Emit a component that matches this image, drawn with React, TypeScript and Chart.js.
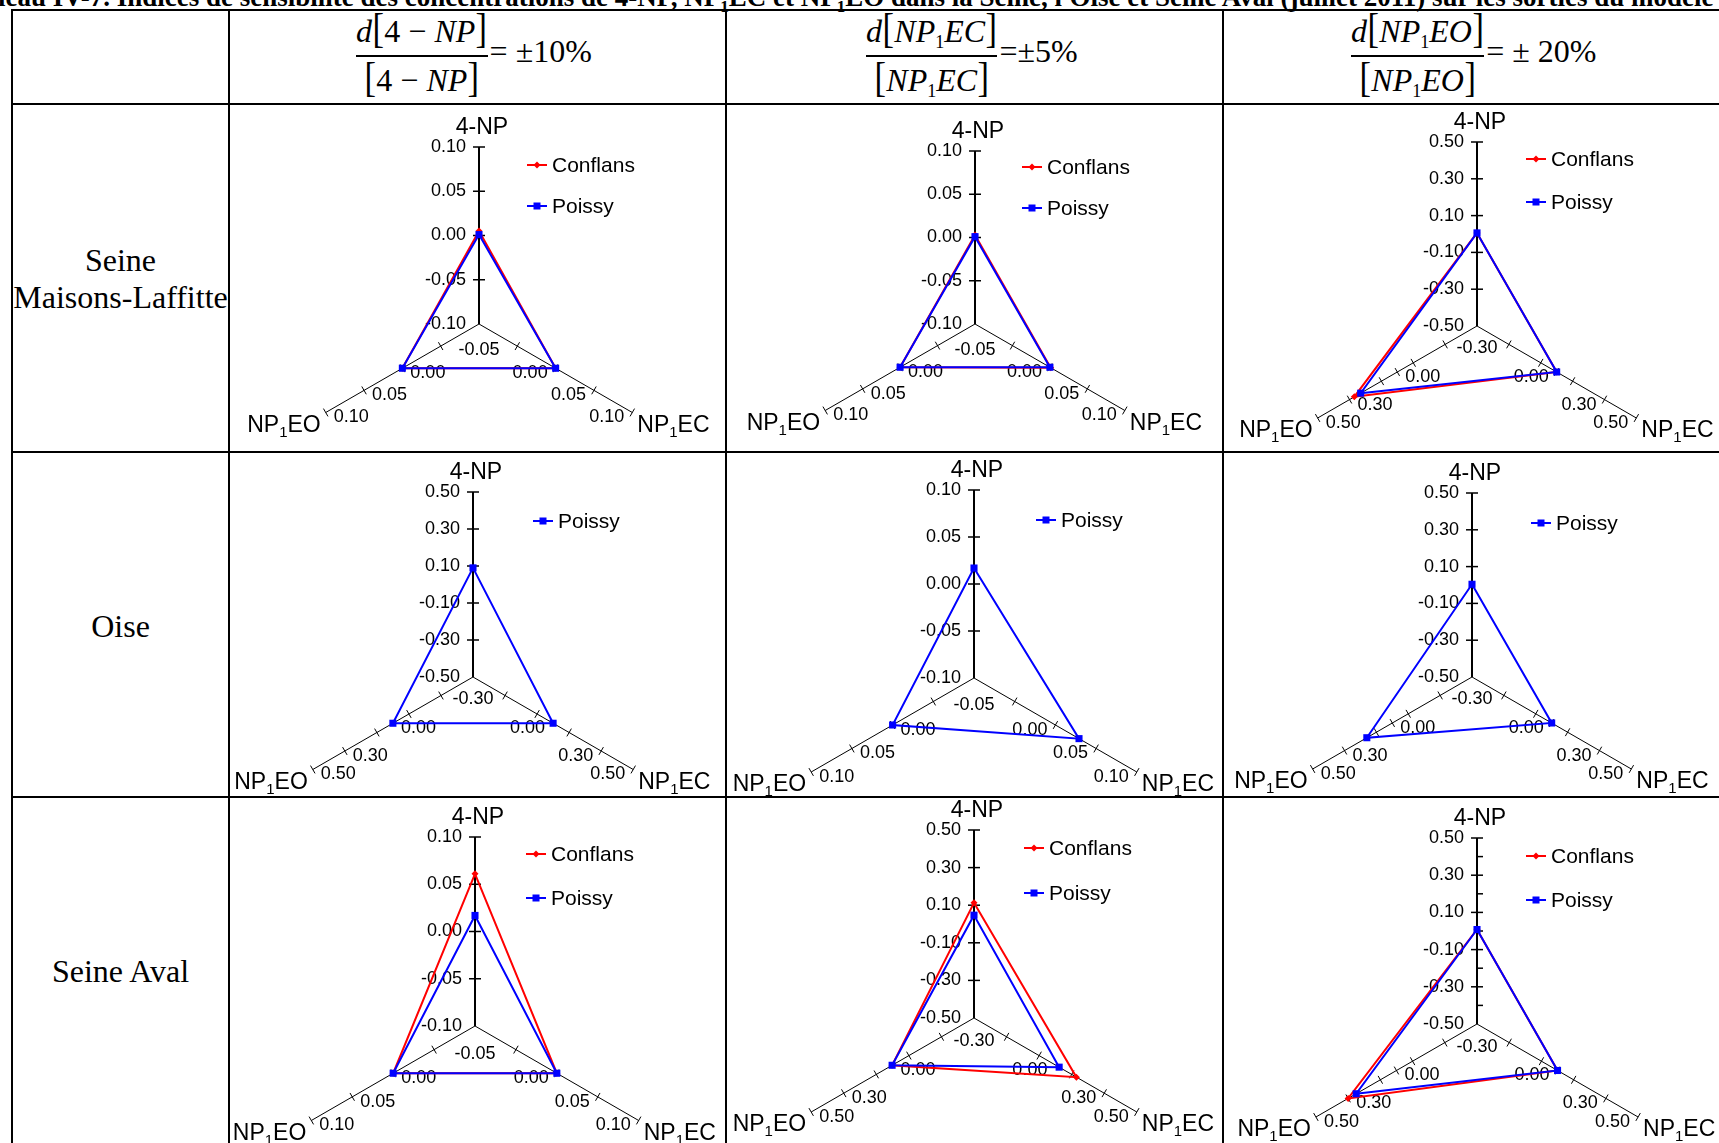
import React, { useEffect, useRef } from 'react';
import { Chart, registerables } from 'chart.js';

Chart.register(...registerables);

// ---------------- Data ----------------
const axisNames = ['4-NP', 'NP1EC', 'NP1EO'];
const seriesNames = ['Conflans', 'Poissy'];
const seriesColors = ['#FF0000', '#0000FF'];

// vertical-axis tick labels
const smallAxisTicks = [0.1, 0.05, 0.0, -0.05, -0.1];
const largeAxisTicks = [0.5, 0.3, 0.1, -0.1, -0.3, -0.5];
const largeMinorTicks = [0.4, 0.2, 0.0, -0.2, -0.4];
// side-axis ticks and labels
const smallSideTicks = [-0.05, 0.0, 0.05, 0.1];
const largeSideTicks = [-0.3, -0.1, 0.0, 0.1, 0.3, 0.5];
const largeSideTicksPlain = [-0.3, -0.1, 0.1, 0.3, 0.5];
const smallSideLabels = [-0.05, 0.0, 0.05, 0.1];
const largeSideLabels = [-0.3, 0.0, 0.3, 0.5];

// Seine Maisons-Laffitte  [4-NP, NP1EC, NP1EO]
const smlConflans4NP = [0.005, 0.0, 0.0];
const smlPoissy4NP = [0.001, 0.0, 0.0];
const smlConflansEC = [0.003, 0.001, 0.0];
const smlPoissyEC = [0.001, 0.0, 0.0];
const smlConflansEO = [0.006, 0.0, 0.27];
const smlPoissyEO = [0.006, 0.0, 0.23];
// Oise
const oisePoissy4NP = [0.09, 0.0, 0.0];
const oisePoissyEC = [0.017, 0.029, 0.0];
const oisePoissyEO = [0.004, 0.0, 0.16];
// Seine Aval
const savConflans4NP = [0.061, 0.0, 0.0];
const savPoissy4NP = [0.017, 0.0, 0.0];
const savConflansEC = [0.113, 0.129, 0.003];
const savPoissyEC = [0.047, 0.023, 0.003];
const savConflansEO = [0.008, 0.0, 0.3];
const savPoissyEO = [0.008, 0.0, 0.25];

const rowLabels = [['Seine', 'Maisons-Laffitte'], ['Oise'], ['Seine Aval']];

// ---------------- Layout ----------------
const sans = "'Liberation Sans', Arial, Helvetica, sans-serif";
const serif = "'Liberation Serif', 'Times New Roman', Times, serif";
const colX = [12, 229, 726, 1223, 1720];
const rowY = [10, 104, 452, 797, 1143];
const CANVAS_W = 497;
const CANVAS_H = 470;

type Cfg = {
  row: number; col: number; cx: number; cy: number; R: number;
  large: boolean; conflans: number[] | null; poissy: number[];
  lx: number; ly: number; gap: number; zeroTick: boolean; minor: boolean;
};

const charts: Cfg[] = [
  { row: 0, col: 0, cx: 250, cy: 220, R: 177, large: false, conflans: smlConflans4NP, poissy: smlPoissy4NP, lx: 298, ly: 61, gap: 41, zeroTick: false, minor: false },
  { row: 0, col: 1, cx: 249, cy: 220, R: 173, large: false, conflans: smlConflansEC, poissy: smlPoissyEC, lx: 296, ly: 63, gap: 41, zeroTick: false, minor: false },
  { row: 0, col: 2, cx: 254, cy: 222, R: 184, large: true, conflans: smlConflansEO, poissy: smlPoissyEO, lx: 303, ly: 55, gap: 43, zeroTick: true, minor: false },
  { row: 1, col: 0, cx: 244, cy: 225, R: 185, large: true, conflans: null, poissy: oisePoissy4NP, lx: 304, ly: 69, gap: 0, zeroTick: false, minor: false },
  { row: 1, col: 1, cx: 248, cy: 226, R: 188, large: false, conflans: null, poissy: oisePoissyEC, lx: 310, ly: 68, gap: 0, zeroTick: false, minor: false },
  { row: 1, col: 2, cx: 249, cy: 225, R: 184, large: true, conflans: null, poissy: oisePoissyEO, lx: 308, ly: 71, gap: 0, zeroTick: true, minor: false },
  { row: 2, col: 0, cx: 246, cy: 229, R: 189, large: false, conflans: savConflans4NP, poissy: savPoissy4NP, lx: 297, ly: 57, gap: 44, zeroTick: false, minor: false },
  { row: 2, col: 1, cx: 248, cy: 221, R: 188, large: true, conflans: savConflansEC, poissy: savPoissyEC, lx: 298, ly: 51, gap: 45, zeroTick: false, minor: false },
  { row: 2, col: 2, cx: 254, cy: 227, R: 186, large: true, conflans: savConflansEO, poissy: savPoissyEO, lx: 303, ly: 59, gap: 44, zeroTick: true, minor: true },
];

const fmt = (v: number) => (Math.abs(v) < 1e-9 ? '0.00' : v.toFixed(2));

function drawAxisName(ctx: CanvasRenderingContext2D, name: string, x: number, baseline: number, align: 'left' | 'right' | 'center') {
  const m = name.match(/^(NP)(1)(.*)$/);
  const parts: [string, boolean][] = m ? [[m[1], false], [m[2], true], [m[3], false]] : [[name, false]];
  const big = `23px ${sans}`;
  const small = `15px ${sans}`;
  const widths = parts.map(([t, sub]) => { ctx.font = sub ? small : big; return ctx.measureText(t).width; });
  const total = widths.reduce((a, b) => a + b, 0);
  let start = align === 'left' ? x : align === 'right' ? x - total : x - total / 2;
  ctx.textAlign = 'left';
  ctx.textBaseline = 'alphabetic';
  parts.forEach(([t, sub], i) => {
    ctx.font = sub ? small : big;
    ctx.fillText(t, start, sub ? baseline + 5 : baseline);
    start += widths[i];
  });
}

function drawMarker(ctx: CanvasRenderingContext2D, idx: number, x: number, y: number) {
  ctx.fillStyle = seriesColors[idx];
  if (idx === 0) {
    ctx.beginPath();
    ctx.moveTo(x, y - 3.5); ctx.lineTo(x + 3.5, y); ctx.lineTo(x, y + 3.5); ctx.lineTo(x - 3.5, y);
    ctx.closePath(); ctx.fill();
  } else {
    ctx.fillRect(x - 3.5, y - 3.5, 7, 7);
  }
}

function makeDecor(cfg: Cfg) {
  return {
    id: 'decor',
    beforeDatasetsDraw(chart: any) {
      const s = chart.scales.r;
      const ctx: CanvasRenderingContext2D = chart.ctx;
      const vTicks = cfg.large ? largeAxisTicks : smallAxisTicks;
      const minV = cfg.large ? -0.5 : -0.1;
      const sTicks = cfg.large ? (cfg.zeroTick ? largeSideTicks : largeSideTicksPlain) : smallSideTicks;
      const sLabels = cfg.large ? largeSideLabels : smallSideLabels;
      ctx.save();
      ctx.strokeStyle = '#000';
      ctx.fillStyle = '#000';
      ctx.font = `18px ${sans}`;
      ctx.lineWidth = 1.5;
      vTicks.forEach((v) => {
        const p = s.getPointPositionForValue(0, v);
        if (v !== minV) {
          ctx.beginPath(); ctx.moveTo(p.x - 6, p.y); ctx.lineTo(p.x + 6, p.y); ctx.stroke();
        }
        ctx.textAlign = 'right';
        ctx.textBaseline = 'middle';
        ctx.fillText(fmt(v), p.x - 13, p.y);
      });
      if (cfg.minor) {
        largeMinorTicks.forEach((v) => {
          const p = s.getPointPositionForValue(0, v);
          ctx.beginPath(); ctx.moveTo(p.x, p.y); ctx.lineTo(p.x + 6, p.y); ctx.stroke();
        });
      }
      ctx.lineWidth = 1;
      [1, 2].forEach((i) => {
        sTicks.forEach((v) => {
          const p = s.getPointPositionForValue(i, v);
          const nx = -Math.sin(p.angle);
          const ny = Math.cos(p.angle);
          ctx.beginPath();
          ctx.moveTo(p.x - nx * 4.5, p.y - ny * 4.5);
          ctx.lineTo(p.x + nx * 4.5, p.y + ny * 4.5);
          ctx.stroke();
        });
        sLabels.slice(1).forEach((v) => {
          const p = s.getPointPositionForValue(i, v);
          ctx.textAlign = i === 1 ? 'right' : 'left';
          ctx.textBaseline = 'middle';
          ctx.fillText(fmt(v), p.x + (i === 1 ? -8 : 8), p.y + 5);
        });
      });
      const p1 = s.getPointPositionForValue(1, sLabels[0]);
      ctx.textAlign = 'center';
      ctx.textBaseline = 'middle';
      ctx.fillText(fmt(sLabels[0]), s.xCenter, p1.y + 4);
      ctx.restore();
    },
    afterDatasetsDraw(chart: any) {
      const s = chart.scales.r;
      const ctx: CanvasRenderingContext2D = chart.ctx;
      const maxV = cfg.large ? 0.5 : 0.1;
      ctx.save();
      ctx.fillStyle = '#000';
      const top = s.getPointPositionForValue(0, maxV);
      drawAxisName(ctx, axisNames[0], top.x + 3, top.y - 13, 'center');
      const ec = s.getPointPositionForValue(1, maxV);
      drawAxisName(ctx, axisNames[1], ec.x + 5, ec.y + 19, 'left');
      const eo = s.getPointPositionForValue(2, maxV);
      drawAxisName(ctx, axisNames[2], eo.x - 5, eo.y + 19, 'right');
      // legend
      const items = cfg.conflans ? [0, 1] : [1];
      items.forEach((idx, k) => {
        const y = cfg.ly + k * cfg.gap;
        ctx.strokeStyle = seriesColors[idx];
        ctx.lineWidth = 2;
        ctx.beginPath(); ctx.moveTo(cfg.lx, y); ctx.lineTo(cfg.lx + 20, y); ctx.stroke();
        drawMarker(ctx, idx, cfg.lx + 10, y);
        ctx.fillStyle = '#000';
        ctx.font = `21px ${sans}`;
        ctx.textAlign = 'left';
        ctx.textBaseline = 'middle';
        ctx.fillText(seriesNames[idx], cfg.lx + 25, y + 1);
      });
      ctx.restore();
    },
  };
}

function RadarCell({ cfg }: { cfg: Cfg }) {
  const ref = useRef<HTMLCanvasElement>(null);
  useEffect(() => {
    const datasets: any[] = [];
    if (cfg.conflans) {
      datasets.push({
        label: seriesNames[0], data: cfg.conflans, borderColor: seriesColors[0], backgroundColor: seriesColors[0],
        borderWidth: 2, fill: false, pointStyle: 'rectRot', pointRadius: 3.5, pointBorderWidth: 0,
        pointBackgroundColor: seriesColors[0], order: 1,
      });
    }
    datasets.push({
      label: seriesNames[1], data: cfg.poissy, borderColor: seriesColors[1], backgroundColor: seriesColors[1],
      borderWidth: 2, fill: false, pointStyle: 'rect', pointRadius: 5, pointBorderWidth: 0,
      pointBackgroundColor: seriesColors[1], order: 0,
    });
    const min = cfg.large ? -0.5 : -0.1;
    const max = cfg.large ? 0.5 : 0.1;
    const chart = new Chart(ref.current as HTMLCanvasElement, {
      type: 'radar',
      data: { labels: axisNames, datasets },
      options: {
        responsive: false,
        animation: false,
        events: [],
        layout: {
          padding: {
            left: cfg.cx - cfg.R, top: cfg.cy - cfg.R,
            right: CANVAS_W - cfg.cx - cfg.R, bottom: CANVAS_H - cfg.cy - cfg.R,
          },
        },
        plugins: { legend: { display: false }, tooltip: { enabled: false }, title: { display: false } },
        elements: { line: { tension: 0 } },
        scales: {
          r: {
            min, max,
            ticks: { display: false, stepSize: cfg.large ? 0.2 : 0.05 },
            grid: { display: false },
            angleLines: { display: true, color: '#000', lineWidth: (c: any) => (c.index === 0 ? 2 : 1) },
            pointLabels: { display: false },
          },
        },
      } as any,
      plugins: [makeDecor(cfg) as any],
    });
    return () => chart.destroy();
  }, [cfg]);
  const left = colX[cfg.col + 1];
  const top = rowY[cfg.row + 1];
  const h = rowY[cfg.row + 2] - top;
  return (
    <div style={{ position: 'absolute', left, top, width: CANVAS_W, height: h, overflow: 'hidden' }}>
      <canvas ref={ref} width={CANVAS_W} height={CANVAS_H} style={{ display: 'block', width: CANVAS_W, height: CANVAS_H }} />
    </div>
  );
}

const Br = ({ c }: { c: string }) => (
  <span style={{ fontStyle: 'normal', fontSize: 43, display: 'inline-block', transform: 'scaleX(0.8)', margin: '0 -1px' }}>{c}</span>
);
const It = ({ t }: { t: string }) => <span style={{ fontStyle: 'italic' }}>{t}</span>;
const Sub = ({ t }: { t: string }) => (
  <span style={{ fontStyle: 'normal', fontSize: 18, position: 'relative', top: 6 }}>{t}</span>
);

function Formula({ left, num, den, rest }: { left: number; num: React.ReactNode; den: React.ReactNode; rest: string }) {
  return (
    <div style={{ position: 'absolute', left, top: 8, fontFamily: serif, fontSize: 32, whiteSpace: 'nowrap', display: 'flex', alignItems: 'flex-start' }}>
      <div style={{ display: 'flex', flexDirection: 'column', alignItems: 'center' }}>
        <div style={{ height: 47, lineHeight: '40px' }}>{num}</div>
        <div style={{ height: 2, background: '#000', alignSelf: 'stretch' }} />
        <div style={{ height: 44, lineHeight: '40px' }}>{den}</div>
      </div>
      <div style={{ fontSize: 32, lineHeight: '40px', marginTop: 23, marginLeft: 2 }}>{rest}</div>
    </div>
  );
}

export default function App() {
  useEffect(() => {
    document.body.style.margin = '0';
  }, []);
  const vLines = [colX[0], colX[1], colX[2], colX[3]];
  const hLines = [rowY[0], rowY[1], rowY[2], rowY[3]];
  const rowLabelCenters = [[260, 297], [626], [971]];
  return (
    <div style={{ position: 'relative', width: 1719, height: 1143, overflow: 'hidden', background: '#fff' }}>
      <style>{'body{margin:0}'}</style>
      {/* caption, partially cut off at the top */}
      <div style={{ position: 'absolute', left: -46, top: -16, fontFamily: serif, fontWeight: 'bold', fontSize: 27, lineHeight: '27px', whiteSpace: 'nowrap' }}>
        Tableau IV-7. Indices de sensibilité des concentrations de 4-NP, NP<sub style={{ fontSize: 17 }}>1</sub>EC et NP<sub style={{ fontSize: 17 }}>1</sub>EO dans la Seine, l'Oise et Seine Aval (juillet 2011) sur les sorties du modèle
      </div>

      {/* header formulas */}
      <Formula
        left={356}
        num={<><It t="d" /><Br c="[" /><span>4 − </span><It t="NP" /><Br c="]" /></>}
        den={<><Br c="[" /><span>4 − </span><It t="NP" /><Br c="]" /></>}
        rest="= ±10%"
      />
      <Formula
        left={866}
        num={<><It t="d" /><Br c="[" /><It t="NP" /><Sub t="1" /><It t="EC" /><Br c="]" /></>}
        den={<><Br c="[" /><It t="NP" /><Sub t="1" /><It t="EC" /><Br c="]" /></>}
        rest="=±5%"
      />
      <Formula
        left={1351}
        num={<><It t="d" /><Br c="[" /><It t="NP" /><Sub t="1" /><It t="EO" /><Br c="]" /></>}
        den={<><Br c="[" /><It t="NP" /><Sub t="1" /><It t="EO" /><Br c="]" /></>}
        rest="= ± 20%"
      />

      {/* row labels */}
      {rowLabels.map((lines, r) =>
        lines.map((t, k) => (
          <div key={`${r}-${k}`} style={{ position: 'absolute', left: colX[0], width: colX[1] - colX[0], top: rowLabelCenters[r][k] - 20, height: 40, lineHeight: '40px', textAlign: 'center', fontFamily: serif, fontSize: 32, whiteSpace: 'nowrap' }}>
            {t}
          </div>
        ))
      )}

      {charts.map((c, i) => <RadarCell key={i} cfg={c} />)}

      {/* table rules */}
      {vLines.map((x, i) => (
        <div key={`v${i}`} style={{ position: 'absolute', left: x - 1, top: rowY[0] - 1, width: 2, height: 1143, background: '#000' }} />
      ))}
      {hLines.map((y, i) => (
        <div key={`h${i}`} style={{ position: 'absolute', left: colX[0] - 1, top: y - 1, width: 1720, height: 2, background: '#000' }} />
      ))}
    </div>
  );
}
